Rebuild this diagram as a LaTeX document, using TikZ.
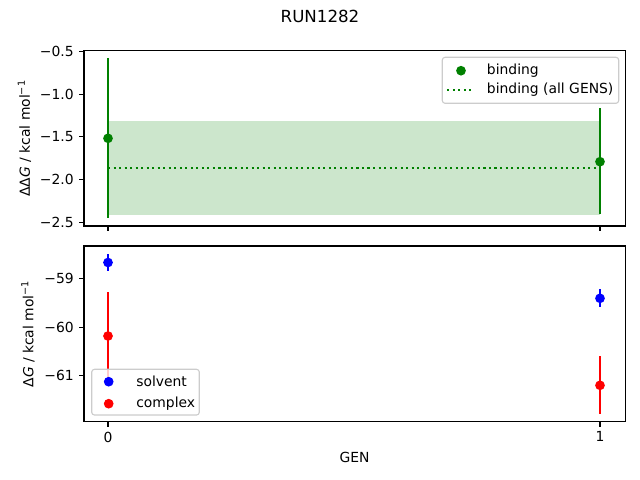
\documentclass[tikz,border=0pt]{standalone}
\usepackage{fontspec}
\setmainfont{DejaVu Sans}
\usepackage{tikz}
\definecolor{mplgreen}{HTML}{008000}
\definecolor{bandgreen}{RGB}{204,230,204}
\definecolor{legendedge}{gray}{0.8}

\begin{document}
\begin{tikzpicture}[x=0.72pt,y=-0.72pt,
  axesframe/.style={line width=0.8pt},
  tickmark/.style={line width=0.8pt},
  errbar/.style={line width=1.5pt},
  dot/.style={circle,inner sep=0pt,minimum size=7pt},
  lbl/.style={inner sep=0pt},
  meanline/.style={mplgreen,line width=1.5pt,dash pattern=on 1.5pt off 2.475pt},
  legendbox/.style={draw=legendedge,fill=white,fill opacity=0.8,rounded corners=2pt,line width=0.8pt}]

\useasboundingbox (0,0) rectangle (640,480);

\node[lbl] (title) at (320,16) {\fontsize{12}{14}\selectfont RUN1282};

\fill[bandgreen] (108,121) rectangle (600,215.3);
\draw[errbar,mplgreen] (108,58.3) -- (108,217.7);
\draw[errbar,mplgreen] (600,108.3) -- (600,214);
\draw[meanline] (108,167.7) -- (600,167.7);
\node[dot,fill=mplgreen] (bind0) at (108,138.3) {};
\node[dot,fill=mplgreen] (bind1) at (600,161.7) {};

\draw[axesframe] (84,50.7) rectangle (625.7,226);
\draw[tickmark] (84,51.7) -- (79.1,51.7);
\draw[tickmark] (84,94.3) -- (79.1,94.3);
\draw[tickmark] (84,136.9) -- (79.1,136.9);
\draw[tickmark] (84,179.5) -- (79.1,179.5);
\draw[tickmark] (84,222.1) -- (79.1,222.1);
\draw[tickmark] (108,226) -- (108,230.9);
\draw[tickmark] (600,226) -- (600,230.9);
\node[lbl,anchor=east] (ta) at (74,51.7) {−0.5};
\node[lbl,anchor=east] (tb) at (74,94.3) {−1.0};
\node[lbl,anchor=east] (tc) at (74,136.9) {−1.5};
\node[lbl,anchor=east] (td) at (74,179.5) {−2.0};
\node[lbl,anchor=east] (te) at (74,222.1) {−2.5};
\node[lbl,rotate=90] (ylabtop) at (24.5,138.4) {ΔΔ\textit{G} / kcal mol\textsuperscript{−1}};

\draw[legendbox] (442.3,57.3) rectangle (618.7,103.3);
\node[dot,fill=mplgreen] (legbind) at (461,70.7) {};
\node[lbl,anchor=west] (legbindtxt) at (486.7,70.7) {binding};
\draw[meanline] (447.3,90) -- (474.3,90);
\node[lbl,anchor=west] (legalltxt) at (486.7,90) {binding (all GENS)};

\draw[errbar,blue] (108,254) -- (108,271);
\draw[errbar,red] (108,292.3) -- (108,380);
\node[dot,fill=blue] (solv0) at (108,262.5) {};
\node[dot,fill=red] (cplx0) at (108,336) {};
\draw[errbar,blue] (600,289) -- (600,306.7);
\draw[errbar,red] (600,356) -- (600,413.7);
\node[dot,fill=blue] (solv1) at (600,298.3) {};
\node[dot,fill=red] (cplx1) at (600,385.3) {};

\draw[axesframe] (84,246) rectangle (625.7,421.7);
\draw[tickmark] (84,278.7) -- (79.1,278.7);
\draw[tickmark] (84,327.3) -- (79.1,327.3);
\draw[tickmark] (84,375.9) -- (79.1,375.9);
\draw[tickmark] (108,421.7) -- (108,426.6);
\draw[tickmark] (600,421.7) -- (600,426.6);
\node[lbl,anchor=east] (tf) at (74,278.7) {−59};
\node[lbl,anchor=east] (tg) at (74,327.3) {−60};
\node[lbl,anchor=east] (th) at (74,375.9) {−61};
\node[lbl,anchor=north] (x0) at (108,431.5) {0};
\node[lbl,anchor=north] (x1) at (600,431.5) {1};
\node[lbl,rotate=90] (ylabbot) at (28,333.9) {Δ\textit{G} / kcal mol\textsuperscript{−1}};
\node[lbl] (xlab) at (354.5,457.3) {GEN};

\draw[legendbox] (91.7,369.3) rectangle (199.3,415);
\node[dot,fill=blue] (legsolv) at (108.7,381.7) {};
\node[lbl,anchor=west] (legsolvtxt) at (136,381.7) {solvent};
\node[dot,fill=red] (legcplx) at (108.7,403.7) {};
\node[lbl,anchor=west] (legcplxtxt) at (136,403.7) {complex};
\end{tikzpicture}
\end{document}
